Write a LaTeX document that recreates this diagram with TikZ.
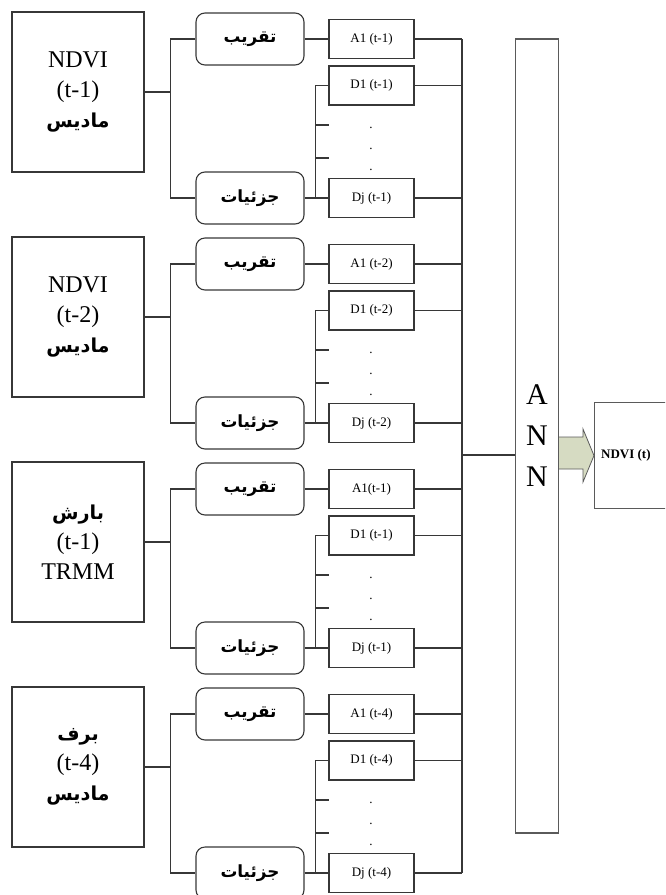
\documentclass[tikz,border=0pt]{standalone}
\usepackage{fontspec}
\setmainfont{Liberation Serif}
\newfontfamily\arfont[Script=Arabic,Scale=0.8]{DejaVu Sans}
\TeXXeTstate=1
\usetikzlibrary{calc}
\definecolor{lngray}{RGB}{55,55,55}
\definecolor{bxgray}{RGB}{90,90,90}
\definecolor{arrfill}{RGB}{214,219,194}
\newcommand{\fa}[1]{{\arfont\bfseries\beginR #1\endR}}

\begin{document}
\begin{tikzpicture}[x=1pt, y=-1pt,
  srcbox/.style={rectangle, draw=lngray, line width=1.1pt, minimum width=132pt,
                 minimum height=160pt, align=center, inner sep=0pt,
                 font=\fontsize{24}{30}\selectfont},
  wbox/.style={rectangle, rounded corners=9pt, draw=lngray, line width=1.1pt,
               minimum width=108pt, minimum height=52pt, inner sep=0pt,
               font=\fontsize{21}{24}\selectfont},
  cbox/.style={rectangle, draw=lngray, line width=1.1pt, minimum width=85pt,
               minimum height=39pt, inner sep=0pt, font=\fontsize{13}{15}\selectfont},
  ln/.style={draw=lngray, line width=1.1pt}
]
\clip (0,0) rectangle (665,895);
\coordinate (bus) at (462,455);

% Input groups
\foreach \g/\srca/\srcb/\lagt/\atxt in {0/NDVI/\fa{ماديس}/(t-1)/A1 (t-1),
    1/NDVI/\fa{ماديس}/(t-2)/A1 (t-2), 2/\fa{بارش}/TRMM/(t-1)/A1(t-1),
    3/\fa{برف}/\fa{ماديس}/(t-4)/A1 (t-4)} {
  \pgfmathsetmacro\oy{225*\g}
  \node[srcbox] (src\g) at (78,{92+\oy}) {\srca\\\lagt\\\srcb};
  \node[wbox]   (apx\g) at (250,{39+\oy})  {\fa{تقریب}};
  \node[wbox]   (det\g) at (250,{198+\oy}) {\fa{جزئیات}};
  \node[cbox]   (a\g)   at (371.5,{39+\oy})   {\atxt};
  \node[cbox]   (d\g)   at (371.5,{85.5+\oy}) {D1 \lagt};
  \node[cbox]   (j\g)   at (371.5,{198+\oy})  {Dj \lagt};
  \foreach \k in {0,1,2}
    \node[anchor=base, inner sep=0pt, font=\fontsize{13}{15}\selectfont]
      (dot\g\k) at (371,{128+21*\k+\oy}) {.};

  \draw[ln] (src\g.east) -- ++(26,0) |- (apx\g.west);
  \draw[ln] (src\g.east) -- ++(26,0) |- (det\g.west);
  \draw[ln] (apx\g.east) -- (a\g.west);
  \draw[ln] (det\g.east) -- (j\g.west);
  \draw[ln] (j\g.west) ++(-13,0) |- (d\g.west);
  \draw[ln] (j\g.west) ++(-13,-73) -- ++(14,0);
  \draw[ln] (j\g.west) ++(-13,-40) -- ++(14,0);
  \draw[ln] (a\g.east) -- (a\g.east -| bus);
  \draw[ln] (d\g.east) -- (d\g.east -| bus);
  \draw[ln] (j\g.east) -- (j\g.east -| bus);
}

% Network and output
\node[rectangle, draw=bxgray, line width=1.4pt, minimum width=43pt, minimum height=794pt,
      inner sep=0pt, align=center, font=\fontsize{30}{41}\selectfont] (ann) at (537,436) {A\\N\\N};
\node[rectangle, draw=bxgray, line width=1.1pt, minimum width=120pt, minimum height=106pt,
      inner sep=0pt, anchor=north west] (out) at (594,402) {};
\node[anchor=west, inner sep=0pt, font=\fontsize{13}{15}\selectfont\bfseries] (outt) at (601,455) {NDVI (t)};

\draw[ln] (a0.east -| bus) -- (j3.east -| bus);
\draw[ln] (bus) -- (ann.west |- bus);
\draw[draw=bxgray, fill=arrfill, line width=0.8pt]
  (ann.east |- 0,437) -- (583,437) -- (583,429) -- (out.west)
  -- (583,482) -- (583,469) -- (ann.east |- 0,469);
\end{tikzpicture}
\end{document}
